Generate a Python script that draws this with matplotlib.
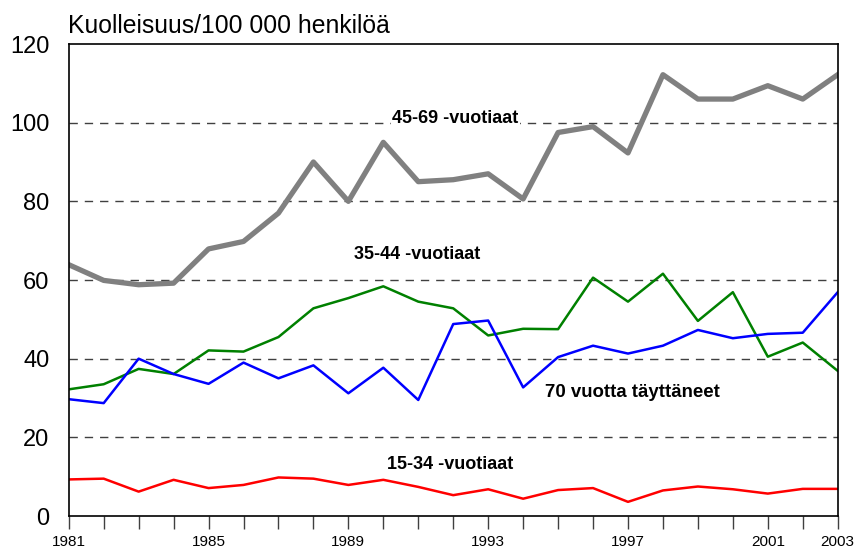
import matplotlib.pyplot as plt
import numpy as np

plt.rcParams['font.family'] = ['Liberation Sans', 'DejaVu Sans']

years = np.arange(1981, 2004)
age_45_69 = [63.9, 59.9, 58.8, 59.2, 67.9, 69.8, 77.0, 90.0, 80.0, 95.0, 85.0, 85.5,
             87.0, 80.6, 97.5, 99.0, 92.3, 112.2, 106.0, 106.0, 109.4, 106.0, 112.2]
age_35_44 = [32.2, 33.5, 37.4, 36.1, 42.1, 41.8, 45.5, 52.8, 55.4, 58.4, 54.5, 52.8,
             45.9, 47.6, 47.5, 60.6, 54.5, 61.6, 49.6, 56.9, 40.5, 44.1, 36.9]
age_70_plus = [29.7, 28.7, 40.0, 36.1, 33.6, 39.0, 35.0, 38.3, 31.2, 37.7, 29.5, 48.8,
               49.7, 32.7, 40.4, 43.3, 41.3, 43.3, 47.3, 45.2, 46.3, 46.6, 56.9]
age_15_34 = [9.3, 9.5, 6.2, 9.2, 7.1, 7.9, 9.8, 9.5, 7.9, 9.2, 7.4, 5.3,
             6.8, 4.4, 6.6, 7.1, 3.6, 6.5, 7.5, 6.8, 5.7, 6.9, 6.9]
label_years = [1981, 1985, 1989, 1993, 1997, 2001, 2003]

fig = plt.figure(figsize=(8.57, 5.5), dpi=100)
ax = fig.add_axes([0.0802, 0.0618, 0.8973, 0.8582])

for yv in [20, 40, 60, 80, 100]:
    ax.axhline(yv, color='#404040', linestyle=(0, (6, 5)), linewidth=1.0, zorder=1)

ax.plot(years, age_45_69, color='#808080', linewidth=3.8, zorder=3)
ax.plot(years, age_35_44, color='#008000', linewidth=1.8, zorder=3)
ax.plot(years, age_70_plus, color='#0000ff', linewidth=1.8, zorder=3)
ax.plot(years, age_15_34, color='#ff0000', linewidth=1.8, zorder=3)

ax.set_xlim(1981, 2003)
ax.set_ylim(0, 120)
ax.set_yticks([0, 20, 40, 60, 80, 100, 120])
ax.tick_params(axis='y', length=0, labelsize=17, pad=14)
ax.set_xticks(years)
ax.set_xticklabels([str(y) if y in label_years else '' for y in years])
ax.tick_params(axis='x', length=9, width=1, direction='out', labelsize=11, pad=5,
               color='#404040')
for s in ax.spines.values():
    s.set_linewidth(1.2)
    s.set_zorder(4)

# the 45-69 label sits on the 100 gridline and hides it
ax.text(1992.06, 101.0, '45-69 -vuotiaat', fontsize=13, fontweight='bold',
        ha='center', va='center', zorder=2,
        bbox=dict(facecolor='white', edgecolor='none', pad=1))
ax.text(1990.97, 66.4, '35-44 -vuotiaat', fontsize=13, fontweight='bold',
        ha='center', va='center', zorder=5)
ax.text(1994.63, 31.5, '70 vuotta täyttäneet', fontsize=13.4, fontweight='bold',
        ha='left', va='center', zorder=5)
ax.text(1991.9, 13.2, '15-34 -vuotiaat', fontsize=13, fontweight='bold',
        ha='center', va='center', zorder=5)

fig.text(0.0795, 1 - 33 / 550, 'Kuolleisuus/100 000 henkilöä', fontsize=17.8,
         ha='left', va='baseline')

fig.savefig('out.png', dpi=100)
